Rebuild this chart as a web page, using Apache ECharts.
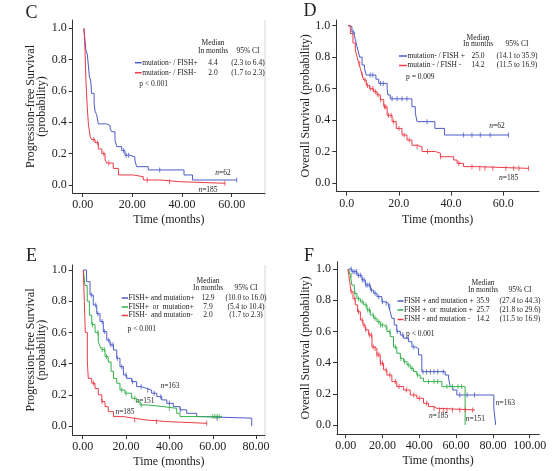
<!DOCTYPE html>
<html><head><meta charset="utf-8">
<script src="https://cdn.jsdelivr.net/npm/echarts@6/dist/echarts.min.js"></script>
<style>html,body{margin:0;padding:0;background:#fff}#c{width:554px;height:471px}</style>
</head><body><div id="c"></div><script>
// ---------- DATA ----------
// Panel C: Progression-free survival, mutation- / FISH+ (blue) vs mutation- / FISH- (red)
const cBlue = [[0.5,1.0],[1.3,0.86],[1.9,0.83],[2.7,0.69],[3.2,0.67],[3.6,0.585],[4.6,0.52],[5.0,0.47],[5.6,0.45],[6.3,0.39],[9.7,0.38],[11,0.36],[11.7,0.34],[13,0.29],[13.7,0.245],[15.7,0.22],[17,0.19],[19,0.18],[21,0.16],[21.7,0.117],[26.4,0.096],[40.8,0.064],[44.2,0.032],[62,0.032]];
const cRed = [[0.5,1.0],[0.94,0.86],[1.34,0.65],[1.9,0.48],[2.3,0.39],[3.0,0.31],[3.6,0.29],[5.0,0.27],[6.3,0.23],[7.7,0.20],[9.0,0.16],[9.7,0.14],[12.3,0.106],[14.4,0.064],[20.4,0.053],[24.4,0.032],[31.1,0.021],[39.2,0.011],[57.3,0.011]];
const cBlueCens = [16.5,17.5,18.5,31,62];
const cRedCens = [4.5,6,8.5,10.5,26,35,57.3];
// Panel D: Overall survival
const dBlue = [[0.5,1.0],[1.0,0.994],[2.0,0.96],[2.9,0.94],[3.6,0.89],[4.3,0.845],[5.0,0.80],[5.9,0.75],[6.8,0.73],[7.5,0.686],[11.2,0.66],[12.3,0.633],[15.5,0.60],[15.8,0.56],[16.7,0.535],[25.0,0.485],[26.3,0.443],[27.0,0.39],[33.8,0.347],[37.5,0.305],[62,0.305]];
const dRed = [[0.5,1.0],[1.4,0.95],[2.4,0.89],[3.3,0.845],[4.0,0.80],[4.6,0.76],[5.2,0.73],[5.9,0.686],[6.5,0.655],[7.5,0.62],[8.8,0.60],[10.3,0.58],[11.6,0.56],[12.9,0.53],[14.2,0.485],[15.5,0.43],[17.4,0.39],[19.0,0.347],[21.2,0.305],[23.1,0.273],[25.0,0.24],[26.9,0.23],[28.9,0.20],[34,0.19],[35.9,0.167],[41,0.146],[42.3,0.125],[44.8,0.104],[49.9,0.093],[69.7,0.093]];
const dBlueCens = [2.5,9,10,13,14,17.4,19.3,21.2,23.1,30.8,44.8,48,51.2,55,62];
const dRedCens = [5,6,7,8,9,10,11,12,13,14.5,15,16,17,18,20,22,24,27,31,36,43,48,51,53,56,61,64,66,69.7];
// Panel E: Progression-free survival, three groups
const eBlue = [[0.3,1.0],[1.8,0.925],[3.4,0.84],[4.9,0.775],[6.5,0.72],[8,0.67],[9.5,0.605],[11.1,0.55],[12.6,0.52],[14.2,0.487],[15.7,0.434],[17.2,0.38],[18.8,0.327],[20.3,0.305],[22.6,0.284],[24.9,0.252],[27.2,0.24],[29.5,0.23],[31.8,0.21],[34.2,0.188],[36.5,0.167],[38.8,0.145],[41.8,0.124],[44.9,0.103],[48,0.081],[52.6,0.06],[54.2,0.05],[78,0.0]];
const eGreen = [[0.3,1.0],[1.1,0.90],[2.1,0.80],[3.1,0.71],[4.2,0.65],[5.7,0.60],[7.2,0.54],[8.0,0.51],[8.8,0.49],[10.3,0.445],[11.8,0.41],[13.1,0.35],[14.2,0.305],[15.7,0.274],[17.2,0.23],[19.5,0.21],[22.6,0.177],[24.9,0.156],[26.5,0.135],[29.5,0.124],[37.2,0.113],[43.4,0.081],[44.9,0.06],[64.2,0.06]];
const eRed = [[0.3,1.0],[0.77,0.8],[1.2,0.6],[2.15,0.41],[2.6,0.305],[4.2,0.274],[5.7,0.24],[7.2,0.20],[8.8,0.156],[10.3,0.124],[11.8,0.092],[14.2,0.06],[18.8,0.05],[23.4,0.038],[29.5,0.028],[38.8,0.017],[57.2,0.017]];
const eBlueCens = [4,6,7,9,10,12,13,14,16,18,20,23,27,30,33,36,40,45,62];
const eGreenCens = [4.5,7,9,10,11,18,20,24,27,40,60,61,62,63];
const eRedCens = [5,9,24,34,57.2];
// Panel F: Overall survival, three groups
const fBlue = [[1.6,1.0],[3.4,0.983],[6.1,0.96],[8.9,0.93],[10.7,0.897],[13.4,0.865],[15.2,0.844],[17,0.823],[19.7,0.79],[21.5,0.78],[23.3,0.76],[24.2,0.726],[25.1,0.684],[26.4,0.641],[27.8,0.60],[29.7,0.577],[31.5,0.556],[34.2,0.534],[36,0.50],[37.8,0.49],[39.6,0.449],[41.4,0.342],[54.1,0.32],[55.9,0.30],[56.8,0.246],[58.2,0.224],[60.4,0.192],[80.5,0.107],[81.5,0.0]];
const fGreen = [[1.6,1.0],[2.5,0.96],[3.4,0.897],[4.7,0.844],[6.1,0.81],[8,0.79],[9.8,0.77],[11.6,0.737],[13.4,0.705],[15.2,0.684],[17,0.662],[18.8,0.641],[20.6,0.63],[22.4,0.60],[24.2,0.566],[26,0.50],[27.8,0.46],[29.7,0.427],[31.5,0.406],[33.3,0.385],[35.1,0.363],[36.9,0.342],[38.7,0.32],[40.5,0.30],[42.3,0.278],[52.3,0.246],[64.9,0.0]];
const fRed = [[1.2,1.0],[2.2,0.92],[2.9,0.855],[4,0.81],[5.2,0.77],[6.5,0.726],[8,0.673],[9.4,0.64],[10.7,0.61],[12.5,0.577],[14.3,0.50],[15.6,0.49],[17,0.45],[18.8,0.395],[20.6,0.353],[22.4,0.32],[25.1,0.278],[27.8,0.246],[31.5,0.224],[35.1,0.192],[38.7,0.171],[42.3,0.139],[45,0.118],[47.7,0.107],[49.5,0.096],[70.3,0.096]];
const fBlueCens = [3,4,5,6,7,8,9,10,11,12,13,14,16,18,20,22,24,28,31,34,37,42,44,46,48,50,53,62,66,70];
const fGreenCens = [3,5,7,9,11,12,13,15,16,18,19,20,22,24,27,30,32,34,36,39,45,48,50,55,58,61,63];
const fRedCens = [3,5,7,9,10,11,13,14,15,16,17,18,19,20,22,24,27,29,33,37,40,44,48,51,53,55,58,62,65,69];

// tick values
const cXTicks = [0,20,40,60];
const dXTicks = [0,20,40,60];
const eXTicks = [0,20,40,60,80];
const fXTicks = [0,20,40,60,80,100];
const yTicks = [0,0.2,0.4,0.6,0.8,1.0];

// legend texts
const cNames = ['mutation- / FISH+','mutation- / FISH-'];
const cMedians = ['4.4','2.0'];
const cCIs = ['(2.3 to 6.4)','(1.7 to 2.3)'];
const dNames = ['mutation- / FISH +','mutatin - / FISH -'];
const dMedians = ['25.0','14.2'];
const dCIs = ['(14.1 to 35.9)','(11.5 to 16.9)'];
const eNames = ['FISH+ and mutation+','FISH+  or  mutation+','FISH-  and mutation-'];
const eMedians = ['12.9','7.9','2.0'];
const eCIs = ['(10.0 to 16.0)','(5.4 to 10.4)','(1.7 to 2.3)'];
const fNames = ['FISH + and mutation +','FISH +  or  mutation +','FISH - and mutation -'];
const fMedians = ['35.9','25.7','14.2'];
const fCIs = ['(27.4 to 44.3)','(21.8 to 29.6)','(11.5 to 16.9)'];
const pValues = ['p < 0.001','p = 0.009','p < 0.001','p < 0.001'];
const cN = ['62','185'];
const dN = ['62','185'];
const eN = ['163','151','185'];
const fN = ['163','151','185'];

// ---------- STYLE / LAYOUT ----------
const BLUE = '#4b5cc8', RED = '#ec3b47', GREEN = '#34b04a';
const SERIF = '"Liberation Serif", "Times New Roman", serif';
const AX = '#333';

const panels = [
  {grid:{left:72.7, top:20, width:192.3, height:173}, xmin:-4.02, xmax:73.4, ymin:-0.051, ymax:1.053, xt:cXTicks, xd:2,
   yname:'Progression-free Survival\n(probability)', ygap:24, xgap:21},
  {grid:{left:336.3, top:20, width:202.7, height:171.7}, xmin:-3.98, xmax:73.7, ymin:-0.0553, ymax:1.036, xt:dXTicks, xd:1,
   yname:'Overall Survival (probability)', ygap:22, xgap:22},
  {grid:{left:72.7, top:265, width:192.3, height:170}, xmin:-4.6, xmax:84.1, ymin:-0.058, ymax:1.032, xt:eXTicks, xd:2,
   yname:'Progression-free Survival\n(probability)', ygap:24, xgap:21},
  {grid:{left:337, top:261.7, width:202.3, height:172.3}, xmin:-4.7, xmax:105.2, ymin:-0.058, ymax:1.047, xt:fXTicks, xd:2,
   yname:'Overall Survival (probability)', ygap:22, xgap:21}
];

function survAt(curve, t){ let s = curve[0][1]; for (const p of curve){ if (p[0] <= t) s = p[1]; else break; } return s; }

const grids = [], xAxes = [], yAxes = [], series = [];
panels.forEach((p, i) => {
  grids.push(p.grid);
  xAxes.push({gridIndex:i, type:'value', min:p.xmin, max:p.xmax,
    axisLine:{show:true, onZero:false, lineStyle:{color:AX, width:1}},
    axisTick:{show:true, length:4, customValues:p.xt, lineStyle:{color:AX}},
    axisLabel:{customValues:p.xt, formatter:v => Number(v).toFixed(p.xd), margin:6, color:'#222', fontFamily:SERIF, fontSize:12},
    splitLine:{show:false},
    name:'Time (months)', nameLocation:'middle', nameGap:p.xgap, nameTextStyle:{color:'#222', fontFamily:SERIF, fontSize:12}
  });
  yAxes.push({gridIndex:i, type:'value', min:p.ymin, max:p.ymax,
    axisLine:{show:true, onZero:false, lineStyle:{color:AX, width:1}},
    axisTick:{show:true, length:4, customValues:yTicks, lineStyle:{color:AX}},
    axisLabel:{customValues:yTicks, formatter:v => Number(v).toFixed(1), margin:6, color:'#222', fontFamily:SERIF, fontSize:12},
    splitLine:{show:false},
    name:p.yname, nameLocation:'middle', nameGap:p.ygap, nameRotate:90,
    nameTextStyle:{color:'#222', fontFamily:SERIF, fontSize:12, lineHeight:11}
  });
});

function addCurve(idx, curve, cens, color){
  series.push({type:'line', xAxisIndex:idx, yAxisIndex:idx, data:curve, step:'end', showSymbol:false, silent:true,
    lineStyle:{color:color, width:1}, itemStyle:{color:color}, animation:false, z:3});
  series.push({type:'scatter', xAxisIndex:idx, yAxisIndex:idx, data:cens.map(t => [t, survAt(curve, t)]),
    symbol:'rect', symbolSize:[1,5], itemStyle:{color:color}, silent:true, animation:false, z:4});
}
addCurve(0, cBlue, cBlueCens, BLUE);
addCurve(0, cRed, cRedCens, RED);
addCurve(1, dBlue, dBlueCens, BLUE);
addCurve(1, dRed, dRedCens, RED);
addCurve(2, eBlue, eBlueCens, BLUE);
addCurve(2, eGreen, eGreenCens, GREEN);
addCurve(2, eRed, eRedCens, RED);
addCurve(3, fBlue, fBlueCens, BLUE);
addCurve(3, fGreen, fGreenCens, GREEN);
addCurve(3, fRed, fRedCens, RED);

// ---------- GRAPHIC TEXT ----------
const SMALL = '7.5px ' + SERIF;
function txt(x, y, text, align, font, extra){
  return Object.assign({type:'text', x:x, y:y, silent:true, style:{text:text, font:font || SMALL, fill:'#222',
    textAlign:align || 'left', align:align || 'left', textVerticalAlign:'middle', verticalAlign:'middle'}}, extra || {});
}
function seg(x1, y1, x2, y2, color, w){
  return {type:'line', silent:true, shape:{x1:x1, y1:y1, x2:x2, y2:y2}, style:{stroke:color, lineWidth:w || 1.5}};
}
function nLabel(x, y, n){
  return {type:'text', x:x, y:y, silent:true, style:{text:'{i|n}=' + n, font:SMALL, fill:'#222',
    textAlign:'center', align:'center', textVerticalAlign:'middle', verticalAlign:'middle',
    rich:{i:{fontStyle:'italic', fontFamily:SERIF, fontSize:7.5, fill:'#222'}}}};
}
const g = [];
// panel letters
const LETTER = '18px ' + SERIF;
g.push(txt(31.5, 13, 'C', 'center', LETTER));
g.push(txt(310, 11.5, 'D', 'center', LETTER));
g.push(txt(31.5, 256.5, 'E', 'center', LETTER));
g.push(txt(309, 256.5, 'F', 'center', LETTER));
// right borders (left-hand panels)
g.push(seg(265, 20, 265, 197, '#d6d6d6', 1));
g.push(seg(265, 265, 265, 439, '#d6d6d6', 1));

function legend(L){
  g.push(txt(L.medX, L.h1, 'Median', 'center'));
  g.push(txt(L.medX, L.h2, 'In months', 'center'));
  g.push(txt(L.ciX, L.h2, '95% CI', 'center'));
  L.names.forEach((nm, k) => {
    const y = L.rows[k];
    g.push(seg(L.lx1, y, L.lx2, y, L.colors[k], 1.5));
    g.push(txt(L.lx2 + 0.5, y, nm, 'left'));
    g.push(txt(L.medX, y, L.meds[k], 'center'));
    g.push(txt(L.ciX, y, L.cis[k], 'center'));
  });
  g.push(txt(L.px, L.py, L.p, 'left'));
}
legend({names:cNames, meds:cMedians, cis:cCIs, colors:[BLUE, RED], rows:[62.7, 72.7], h1:42.7, h2:51,
  medX:213, ciX:248, lx1:135, lx2:141.7, px:139.3, py:84, p:pValues[0]});
legend({names:dNames, meds:dMedians, cis:dCIs, colors:[BLUE, RED], rows:[56, 65.5], h1:37.7, h2:44.5,
  medX:478, ciX:517, lx1:399, lx2:407, px:406, py:77, p:pValues[1]});
legend({names:eNames, meds:eMedians, cis:eCIs, colors:[BLUE, GREEN, RED], rows:[298, 307, 315.5], h1:281.5, h2:288,
  medX:208, ciX:246, lx1:121.7, lx2:128, px:127.5, py:329, p:pValues[2]});
legend({names:fNames, meds:fMedians, cis:fCIs, colors:[BLUE, GREEN, RED], rows:[301, 310, 319.5], h1:283, h2:290.5,
  medX:483, ciX:520, lx1:397.5, lx2:403.5, px:406, py:334, p:pValues[3]});

// n labels
g.push(nLabel(223, 172.7, cN[0]));
g.push(nLabel(208, 190, cN[1]));
g.push(nLabel(497, 126, dN[0]));
g.push(nLabel(508.7, 178.3, dN[1]));
g.push(nLabel(170, 385.7, eN[0]));
g.push(nLabel(145, 400.7, eN[1]));
g.push(nLabel(125, 411.7, eN[2]));
g.push(nLabel(505.3, 403.3, fN[0]));
g.push(nLabel(475.3, 419.3, fN[1]));
g.push(nLabel(438.7, 416, fN[2]));

const chart = echarts.init(document.getElementById('c'), null, {renderer:'canvas'});
chart.setOption({
  backgroundColor:'#fff',
  animation:false,
  grid:grids, xAxis:xAxes, yAxis:yAxes, series:series,
  graphic:{elements:g}
});
</script></body></html>
